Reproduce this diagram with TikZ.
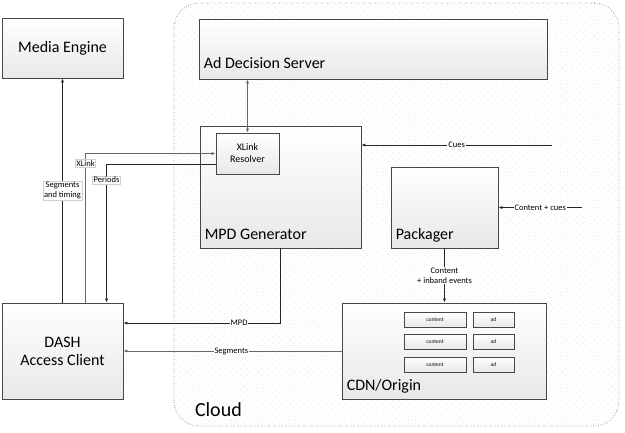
\documentclass[tikz,border=0pt]{standalone}
\usepackage{fontspec}
\setmainfont{Carlito}
\usetikzlibrary{arrows.meta,shadows,patterns.meta}

\begin{document}
\begin{tikzpicture}[x=1pt,y=-1pt,>={Latex[length=4pt,width=3.2pt]},
    blk/.style={draw=black!72, line width=0.9pt, top color=white, bottom color=black!9,
      drop shadow={shadow xshift=1.3pt, shadow yshift=-1.3pt, fill=black!40, opacity=0.5},
      font=\fontsize{16}{18}\selectfont, align=center, inner sep=0pt},
    blklbl/.style={anchor=base west, font=\fontsize{16}{18}\selectfont, inner sep=0pt},
    cell/.style={blk, line width=0.7pt, font=\fontsize{5.5}{6}\selectfont, minimum height=15pt},
    lbl/.style={fill=white, text=black, font=\fontsize{8.5}{10}\selectfont, inner sep=1pt, align=center},
    lblbox/.style={lbl, draw=black!18},
    link/.style={line width=0.7pt, draw=black!85}]
  \useasboundingbox (0,0) rectangle (625,432);
  \node[draw=black!60, dotted, line width=0.9pt, rounded corners=25pt,
        minimum width=445pt, minimum height=423pt, inner sep=0pt,
        pattern={Lines[angle=45,distance=5pt,line width=0.4pt]}, pattern color=black!16,
        postaction={pattern={Lines[angle=-45,distance=5pt,line width=0.4pt]}, pattern color=black!16},
        label={[anchor=base west, font=\fontsize{20}{22}\selectfont, inner sep=0pt, xshift=21pt, yshift=10pt]south west:Cloud}]
        (cloud) at (396.5,214.5) {};

  \node[blk, minimum width=121pt, minimum height=60pt] (media) at (62.5,48) {Media Engine};
  \node[blk, minimum width=121pt, minimum height=96pt] (dash) at (62.5,351) {DASH\\Access Client};
  \node[blk, minimum width=348pt, minimum height=60pt,
        label={[blklbl, xshift=5pt, yshift=11pt]south west:Ad Decision Server}] (ads) at (373,49) {};
  \node[blk, minimum width=161pt, minimum height=122pt,
        label={[blklbl, xshift=5pt, yshift=9pt]south west:MPD Generator}] (mpdgen) at (280.5,187) {};
  \node[blk, minimum width=63pt, minimum height=41pt, font=\fontsize{10}{12}\selectfont] (xlink) at (247.5,153.5) {XLink\\Resolver};
  \node[blk, minimum width=107pt, minimum height=81pt,
        label={[blklbl, xshift=5pt, yshift=9pt]south west:Packager}] (packager) at (444.5,207.5) {};
  \node[blk, minimum width=204pt, minimum height=96pt,
        label={[blklbl, xshift=5pt, yshift=9pt]south west:CDN/Origin}] (cdn) at (444,351) {};
  \foreach \r/\y in {1/319.5,2/341.5,3/364.5} {
    \node[cell, minimum width=62pt] (content\r) at (435,\y) {content};
    \node[cell, minimum width=41pt] (ad\r) at (493.5,\y) {ad};
  }

  \coordinate (cuesrc) at (552,145);
  \coordinate (pkgsrc) at (582,207.5);

  \draw[link, ->] (dash.north -| media.south) -- (media.south) node[lblbox, pos=0.5] {Segments\\and timing};
  \draw[link, ->, draw=black!60] ([xshift=84pt]dash.north west) |- (xlink.west) node[lblbox, pos=0.467] {XLink};
  \draw[link, ->] ([yshift=-10.5pt]xlink.west) -| ([xshift=105pt]dash.north west) node[lblbox, pos=0.558] {Periods};
  \draw[link, <->, draw=black!60] (ads.south -| xlink.north) -- (xlink.north);
  \draw[link, ->] (cuesrc) -- (cuesrc -| mpdgen.east) node[lbl, pos=0.5] {Cues};
  \draw[link, ->] (pkgsrc) -- (packager.east) node[lbl, pos=0.5] {Content + cues};
  \draw[link, ->] (packager.south) -- (packager.south |- cdn.north) node[lbl, pos=0.5] {Content\\+ inband events};
  \draw[link, ->] (mpdgen.south) |- ([yshift=28pt]dash.east) node[lbl, pos=0.632] {MPD};
  \draw[link, ->, draw=black!60] (cdn.west) -- (dash.east) node[lbl, pos=0.505] {Segments};
\end{tikzpicture}
\end{document}
